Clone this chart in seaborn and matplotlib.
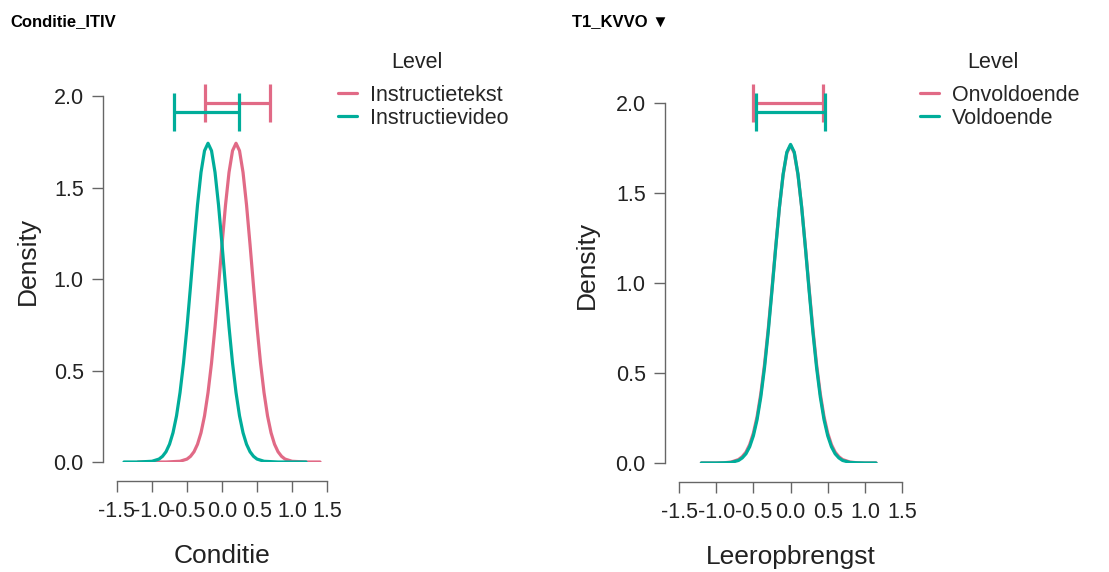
import numpy as np
import pandas as pd
import matplotlib
matplotlib.use("Agg")
import matplotlib.pyplot as plt
import seaborn as sns

PINK = "#E16A86"
TEAL = "#00AD9A"
AXIS_GREY = "#666666"

# ── Panel 1: Conditie_ITIV ───────────────────────────────────────────────────
COND_LEVELS = ["Instructietekst", "Instructievideo"]
COND_TEKST_X = [-1.2, -1.0, -0.8, -0.6, -0.5, -0.45, -0.4, -0.35, -0.3, -0.25,
                -0.2, -0.15, -0.1, -0.05, 0.0, 0.05, 0.1, 0.15, 0.2, 0.25, 0.3,
                0.35, 0.4, 0.45, 0.5, 0.55, 0.6, 0.65, 0.7, 0.75, 0.8, 0.85,
                0.9, 1.0, 1.2, 1.4]
COND_TEKST_Y = [0, 0, 0, 0.004, 0.016, 0.031, 0.056, 0.097, 0.160, 0.252,
                0.379, 0.541, 0.738, 0.960, 1.189, 1.405, 1.583, 1.701, 1.742,
                1.701, 1.583, 1.405, 1.189, 0.960, 0.738, 0.541, 0.379, 0.252,
                0.160, 0.097, 0.056, 0.031, 0.016, 0.004, 0, 0]
COND_VIDEO_X = [-1.4, -1.2, -1.0, -0.9, -0.85, -0.8, -0.75, -0.7, -0.65, -0.6,
                -0.55, -0.5, -0.45, -0.4, -0.35, -0.3, -0.25, -0.2, -0.15, -0.1,
                -0.05, 0.0, 0.05, 0.1, 0.15, 0.2, 0.25, 0.3, 0.35, 0.4, 0.45,
                0.5, 0.6, 0.8, 1.0, 1.2]
COND_VIDEO_Y = [0, 0, 0.004, 0.016, 0.031, 0.056, 0.097, 0.160, 0.252, 0.379,
                0.541, 0.738, 0.960, 1.189, 1.405, 1.583, 1.701, 1.742, 1.701,
                1.583, 1.405, 1.189, 0.960, 0.738, 0.541, 0.379, 0.252, 0.160,
                0.097, 0.056, 0.031, 0.016, 0.004, 0, 0, 0]
COND_CI_LOW = [-0.24, -0.69]
COND_CI_HIGH = [0.69, 0.24]
COND_CI_Y = [1.96, 1.915]

# ── Panel 2: T1_KVVO ─────────────────────────────────────────────────────────
KVVO_LEVELS = ["Onvoldoende", "Voldoende"]
KVVO_X = [-1.2, -1.0, -0.9, -0.8, -0.7, -0.65, -0.6, -0.55, -0.5, -0.45, -0.4,
          -0.35, -0.3, -0.25, -0.2, -0.15, -0.1, -0.05, 0.0, 0.05, 0.1, 0.15,
          0.2, 0.25, 0.3, 0.35, 0.4, 0.45, 0.5, 0.55, 0.6, 0.65, 0.7, 0.8, 0.9,
          1.0, 1.15]
KVVO_ONV_Y = [0, 0, 0.001, 0.005, 0.019, 0.035, 0.060, 0.102, 0.166, 0.258,
              0.385, 0.548, 0.745, 0.968, 1.200, 1.420, 1.600, 1.722, 1.765,
              1.722, 1.600, 1.420, 1.200, 0.968, 0.745, 0.548, 0.385, 0.258,
              0.166, 0.102, 0.060, 0.035, 0.019, 0.005, 0.001, 0, 0]
KVVO_VOL_Y = [0, 0, 0.001, 0.003, 0.014, 0.028, 0.051, 0.090, 0.151, 0.241,
              0.367, 0.530, 0.730, 0.957, 1.194, 1.419, 1.604, 1.727, 1.770,
              1.727, 1.604, 1.419, 1.194, 0.957, 0.730, 0.530, 0.367, 0.241,
              0.151, 0.090, 0.051, 0.028, 0.014, 0.003, 0.001, 0, 0]
KVVO_CI_LOW = [-0.50, -0.47]
KVVO_CI_HIGH = [0.43, 0.47]
KVVO_CI_Y = [2.0, 1.95]

X_TICKS = [-1.5, -1.0, -0.5, 0.0, 0.5, 1.0, 1.5]
Y_TICKS = [0.0, 0.5, 1.0, 1.5, 2.0]

sns.set_theme(style="ticks")
plt.rcParams["font.family"] = ["Liberation Sans", "DejaVu Sans"]
plt.rcParams["axes.unicode_minus"] = False


def long_frame(levels, xs, ys):
    rows = []
    for lvl, x, y in zip(levels, xs, ys):
        rows.append(pd.DataFrame({"x": x, "density": y, "Level": lvl}))
    return pd.concat(rows, ignore_index=True)


def draw_panel(ax, df, levels, ci_low, ci_high, ci_y, xlabel,
               legend_anchor, title_pos, ylabelpad):
    colors = [PINK, TEAL]
    sns.lineplot(data=df, x="x", y="density", hue="Level", hue_order=levels,
                 palette=colors, estimator=None, sort=False, linewidth=2.3,
                 ax=ax)
    for lo, hi, y, c in zip(ci_low, ci_high, ci_y, colors):
        ax.plot([lo, hi], [y, y], color=c, lw=2.3, marker="|", ms=28,
                mew=2.3, clip_on=False, solid_capstyle="butt")

    # y range runs a bit above the last tick (room for the interval bars)
    ax.set_xlim(-1.5, 1.5)
    ax.set_ylim(0, 2.2)
    ax.set_xticks(X_TICKS)
    ax.set_xticklabels([f"{t:.1f}" for t in X_TICKS])
    ax.set_yticks(Y_TICKS)
    ax.set_yticklabels([f"{t:.1f}" for t in Y_TICKS])
    ax.set_xlabel(xlabel, fontsize=19, labelpad=16, color="#222222")
    ax.set_ylabel("Density", fontsize=19, labelpad=ylabelpad, color="#222222")

    sns.despine(ax=ax)
    ax.spines["left"].set_position(("outward", 10))
    ax.spines["bottom"].set_position(("outward", 14))
    ax.spines["left"].set_bounds(Y_TICKS[0], Y_TICKS[-1])
    for s in ("left", "bottom"):
        ax.spines[s].set_color(AXIS_GREY)
        ax.spines[s].set_linewidth(1.0)
    ax.tick_params(length=8, width=1.0, color=AXIS_GREY, labelsize=15.5,
                   labelcolor="#222222", pad=6)

    sns.move_legend(ax, "upper left", bbox_to_anchor=legend_anchor,
                    bbox_transform=ax.figure.transFigure, frameon=False,
                    title=None, fontsize=15.5, borderaxespad=0,
                    handlelength=0.9, handletextpad=0.6, labelspacing=0.08,
                    borderpad=0)
    ax.figure.text(title_pos[0], title_pos[1], "Level", fontsize=15.5,
                   ha="center", va="center", color="#222222")


fig = plt.figure(figsize=(11.09, 5.72), dpi=100)
ax1 = fig.add_axes([0.1055, 0.1923, 0.1894, 0.7038])
ax2 = fig.add_axes([0.6123, 0.1906, 0.2011, 0.6923])

cond_df = long_frame(COND_LEVELS, [COND_TEKST_X, COND_VIDEO_X],
                     [COND_TEKST_Y, COND_VIDEO_Y])
kvvo_df = long_frame(KVVO_LEVELS, [KVVO_X, KVVO_X], [KVVO_ONV_Y, KVVO_VOL_Y])

draw_panel(ax1, cond_df, COND_LEVELS, COND_CI_LOW, COND_CI_HIGH, COND_CI_Y,
           "Conditie", (0.3048, 0.8515), (0.376, 0.8916), 10)
draw_panel(ax2, kvvo_df, KVVO_LEVELS, KVVO_CI_LOW, KVVO_CI_HIGH, KVVO_CI_Y,
           "Leeropbrengst", (0.8296, 0.8515), (0.8954, 0.8916), 12)

fig.text(0.009, 0.962, "Conditie_ITIV", fontsize=12, fontweight="bold",
         va="center", ha="left", color="black")
fig.text(0.516, 0.962, "T1_KVVO \u25BC", fontsize=12, fontweight="bold",
         va="center", ha="left", color="black")

fig.savefig("out.png", dpi=100)
plt.close(fig)
